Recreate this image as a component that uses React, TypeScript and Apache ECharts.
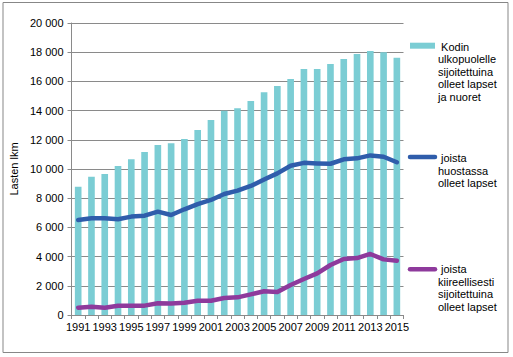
import React, { useEffect, useRef } from "react";
import * as echarts from "echarts";

const years = [
  "1991", "1992", "1993", "1994", "1995", "1996", "1997", "1998", "1999", "2000",
  "2001", "2002", "2003", "2004", "2005", "2006", "2007", "2008", "2009", "2010",
  "2011", "2012", "2013", "2014", "2015",
];
const sijoitetut = [
  8780, 9470, 9660, 10210, 10660, 11160, 11640, 11760, 12050, 12670,
  13360, 13990, 14160, 14660, 15250, 15680, 16160, 16850, 16850, 17190,
  17530, 17880, 18080, 17990, 17620,
];
const huostassa = [
  6510, 6620, 6620, 6560, 6740, 6800, 7080, 6850, 7240, 7600,
  7880, 8290, 8520, 8840, 9280, 9700, 10220, 10420, 10380, 10360,
  10660, 10730, 10930, 10840, 10460,
];
const kiireelliset = [
  500, 570, 500, 640, 640, 640, 800, 790, 845, 980,
  980, 1165, 1210, 1415, 1630, 1575, 2055, 2465, 2850, 3425,
  3835, 3900, 4180, 3810, 3720,
];
const seriesNames = [
  " Kodin\nulkopuolelle\nsijoitettuina\nolleet lapset\nja nuoret",
  " joista\nhuostassa\nolleet lapset",
  " joista\nkiireellisesti\nsijoitettuina\nolleet lapset",
];
const yMin = 0;
const yMax = 20000;
const yStep = 2000;

const FONT = '"Liberation Sans", Arial, sans-serif';
const BAR = "#7BCDD4";
const BLUE = "#2F5DAB";
const PURPLE = "#8E3A9C";
const GRID = "#8A8A8A";

export default function App() {
  const ref = useRef<HTMLDivElement>(null);
  useEffect(() => {
    if (!ref.current) return;
    const chart = echarts.init(ref.current, undefined, { renderer: "svg" });
    const fmt = (v: number) => {
      const s = String(Math.round(v));
      return s.replace(/\B(?=(\d{3})+(?!\d))/g, " ");
    };
    chart.setOption({
      animation: false,
      backgroundColor: "#ffffff",
      textStyle: { fontFamily: FONT },
      grid: { left: 61.5, right: 109.5, top: 23, bottom: 42, containLabel: false },
      xAxis: {
        type: "category",
        data: years,
        boundaryGap: true,
        axisLine: { show: true, lineStyle: { color: GRID, width: 1 } },
        axisTick: { show: true, interval: 0, length: 4, lineStyle: { color: GRID } },
        axisLabel: { interval: 1, color: "#000", fontSize: 11, fontFamily: FONT, margin: 6 },
        splitLine: { show: false },
      },
      yAxis: {
        type: "value",
        min: yMin,
        max: yMax,
        interval: yStep,
        name: "Lasten lkm",
        nameLocation: "middle",
        nameGap: 43,
        nameTextStyle: { color: "#000", fontSize: 11, fontFamily: FONT },
        axisLine: { show: true, lineStyle: { color: GRID, width: 1 } },
        axisTick: { show: true, length: 4, lineStyle: { color: GRID } },
        axisLabel: { color: "#000", fontSize: 11, fontFamily: FONT, margin: 8, formatter: fmt },
        splitLine: { show: true, lineStyle: { color: GRID, width: 1 } },
      },
      series: [
        {
          name: seriesNames[0],
          type: "bar",
          data: sijoitetut,
          barWidth: "50%",
          itemStyle: { color: BAR },
        },
        {
          name: seriesNames[1],
          type: "line",
          data: huostassa,
          symbol: "none",
          lineStyle: { color: BLUE, width: 4.5, cap: "round", join: "round" },
          itemStyle: { color: BLUE },
        },
        {
          name: seriesNames[2],
          type: "line",
          data: kiireelliset,
          symbol: "none",
          lineStyle: { color: PURPLE, width: 4.5, cap: "round", join: "round" },
          itemStyle: { color: PURPLE },
        },
      ],
      graphic: [
        {
          type: "rect",
          shape: { x: 3, y: 2.5, width: 505, height: 350 },
          style: { fill: "none", stroke: "#878787", lineWidth: 1 },
          silent: true,
        },
        {
          type: "rect",
          shape: { x: 410, y: 42.7, width: 25, height: 6 },
          style: { fill: BAR },
        },
        {
          type: "text",
          x: 438,
          y: 40.4,
          style: { text: seriesNames[0], font: "11px " + FONT, fill: "#000", lineHeight: 12.5, verticalAlign: "top" },
        },
        {
          type: "line",
          shape: { x1: 410, y1: 157, x2: 435, y2: 157 },
          style: { stroke: BLUE, lineWidth: 4.5, lineCap: "round" },
        },
        {
          type: "text",
          x: 438,
          y: 151.8,
          style: { text: seriesNames[1], font: "11px " + FONT, fill: "#000", lineHeight: 12.5, verticalAlign: "top" },
        },
        {
          type: "line",
          shape: { x1: 410, y1: 269.3, x2: 435, y2: 269.3 },
          style: { stroke: PURPLE, lineWidth: 4.5, lineCap: "round" },
        },
        {
          type: "text",
          x: 438,
          y: 263,
          style: { text: seriesNames[2], font: "11px " + FONT, fill: "#000", lineHeight: 12.5, verticalAlign: "top" },
        },
      ],
    });
    return () => chart.dispose();
  }, []);
  return (
    <div
      ref={ref}
      style={{ position: "absolute", left: 0, top: 0, width: 513, height: 357, background: "#fff" }}
    />
  );
}
